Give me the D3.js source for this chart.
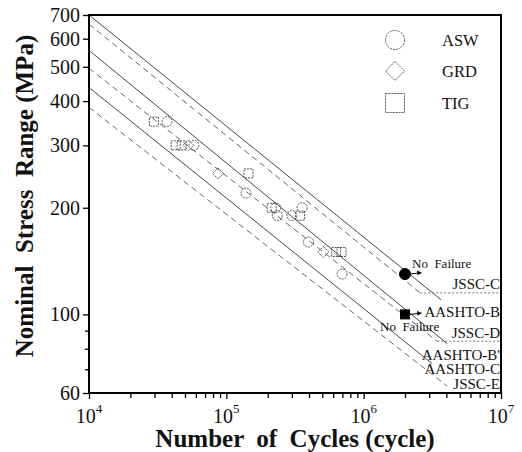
<!DOCTYPE html>
<html>
<head>
<meta charset="utf-8">
<script src="https://cdn.jsdelivr.net/npm/d3@7"></script>
<style>
  body { margin: 0; background: #fff; }
  text { font-family: "Liberation Serif", "Times New Roman", serif; fill: #111; }
</style>
</head>
<body>
<svg id="chart" width="522" height="452"></svg>
<script>
// test data: [cycles, stress range MPa]
var aswData = [[37000, 350], [58000, 300], [139000, 220], [229000, 200], [235000, 190],
               [300000, 190], [356000, 200], [396000, 160], [696000, 130]];
var grdData = [[53000, 300], [87000, 250], [509000, 150]];
var tigData = [[29700, 350], [42800, 300], [47300, 300], [145000, 250], [214000, 200],
               [344000, 190], [630000, 150], [690000, 150]];
// run-outs (no failure)
var runoutShape = ["circle", "square"];
var runoutData = [[2000000, 130], [2000000, 100]];

// design S-N lines: start and end points [cycles, MPa]
var curveNames = ["AASHTO-B", "JSSC-C", "AASHTO-B'", "JSSC-D", "AASHTO-C", "JSSC-E"];
var curveStart = [[1e4, 700], [1e4, 660], [1e4, 556], [1e4, 495], [1e4, 437], [1e4, 384]];
var curveEnd = [[3.66e6, 110], [2.58e6, 115], [4.05e6, 82.7], [3.43e6, 84], [3.15e6, 72.6], [4.05e6, 62.8]];
var curveDashed = [false, true, false, true, false, true];
// constant amplitude limits drawn as dotted lines
var cutoffStart = [2.58e6, 3.43e6];
var cutoffStress = [115, 84];

// curve labels at the right edge, MPa level of each label
var labelNames = ["JSSC-C", "AASHTO-B", "JSSC-D", "AASHTO-B'", "AASHTO-C", "JSSC-E"];
var labelStress = [122, 101.5, 88.5, 77, 70.3, 63.8];

var yMajor = [60, 100, 200, 300, 400, 500, 600, 700];
var yMinor = [70, 80, 90];
var xMajor = [1e4, 1e5, 1e6, 1e7];
var xMinor = [];
[1e4, 1e5, 1e6].forEach(function(d) { for (var k = 2; k <= 9; k++) xMinor.push(k * d); });

var legendNames = ["ASW", "GRD", "TIG"];

var svg = d3.select("#chart");
var plotL = 89, plotR = 501, plotT = 15, plotB = 393;

var x = d3.scaleLog().domain([1e4, 1e7]).range([plotL, plotR]);
var y = d3.scaleLog().domain([60, 700]).range([plotB, plotT]);

// S-N curves
var lineGen = d3.line().x(function(d) { return x(d[0]); }).y(function(d) { return y(d[1]); });
curveNames.forEach(function(name, i) {
  svg.append("path")
    .attr("d", lineGen([curveStart[i], curveEnd[i]]))
    .attr("fill", "none")
    .attr("stroke", curveDashed[i] ? "#555" : "#333")
    .attr("stroke-width", 0.9)
    .attr("stroke-dasharray", curveDashed[i] ? "6,4" : null);
});
cutoffStart.forEach(function(n, i) {
  svg.append("path")
    .attr("d", lineGen([[n, cutoffStress[i]], [1e7, cutoffStress[i]]]))
    .attr("fill", "none")
    .attr("stroke", "#666")
    .attr("stroke-width", 0.9)
    .attr("stroke-dasharray", "2,2");
});

// markers
function drawSymbol(g, shape, cx, cy, s, filled) {
  var el;
  if (shape == "circle") {
    el = g.append("circle").attr("cx", cx).attr("cy", cy).attr("r", s);
  } else if (shape == "diamond") {
    el = g.append("path").attr("d", "M" + cx + "," + (cy - s) + "L" + (cx + s) + "," + cy +
      "L" + cx + "," + (cy + s) + "L" + (cx - s) + "," + cy + "Z");
  } else {
    el = g.append("rect").attr("x", cx - s).attr("y", cy - s).attr("width", 2 * s).attr("height", 2 * s);
  }
  if (filled) {
    el.attr("fill", "#000").attr("stroke", "#000");
  } else {
    el.attr("fill", "none").attr("stroke", "#555").attr("stroke-width", 1)
      .attr("stroke-dasharray", "2,1");
  }
  return el;
}

var pts = svg.append("g").attr("id", "points");
aswData.forEach(function(d) { drawSymbol(pts, "circle", x(d[0]), y(d[1]), 5, false); });
grdData.forEach(function(d) { drawSymbol(pts, "diamond", x(d[0]), y(d[1]), 5.5, false); });
tigData.forEach(function(d) { drawSymbol(pts, "square", x(d[0]), y(d[1]), 4.5, false); });

runoutData.forEach(function(d, i) {
  var cx = x(d[0]), cy = y(d[1]);
  drawSymbol(pts, runoutShape[i], cx, cy, runoutShape[i] == "circle" ? 5.5 : 4.5, true);
  // arrow pointing to more cycles
  pts.append("line").attr("x1", cx + 5).attr("y1", cy).attr("x2", cx + 14).attr("y2", cy - 1)
    .attr("stroke", "#000").attr("stroke-width", 1);
  pts.append("path")
    .attr("d", "M" + (cx + 17) + "," + (cy - 1.3) + "L" + (cx + 12) + "," + (cy - 3.5) + "L" + (cx + 12.5) + "," + (cy + 1.3) + "Z")
    .attr("fill", "#000");
});
svg.append("text").attr("x", x(runoutData[0][0]) + 7).attr("y", y(runoutData[0][1]) - 6)
  .style("font-size", "13px").attr("xml:space", "preserve").text("No  Failure");
svg.append("text").attr("x", x(runoutData[1][0]) - 25).attr("y", y(runoutData[1][1]) + 17)
  .style("font-size", "13px").attr("xml:space", "preserve").text("No  Failure");

// curve labels
labelNames.forEach(function(name, i) {
  svg.append("text")
    .attr("x", plotR - 1)
    .attr("y", y(labelStress[i]))
    .attr("dy", "0.33em")
    .attr("text-anchor", "end")
    .style("font-size", "15px")
    .text(name);
});

// legend
var legendShapes = ["circle", "diamond", "square"];
var legendY = [40, 71, 103];
legendNames.forEach(function(name, i) {
  drawSymbol(svg, legendShapes[i], 395, legendY[i], 9.5, false);
  svg.append("text").attr("x", 442).attr("y", legendY[i]).attr("dy", "0.35em")
    .style("font-size", "16.5px").text(name);
});

// axes
var yAxis = svg.append("g").attr("transform", "translate(" + plotL + ",0)")
  .call(d3.axisLeft(y).tickValues(yMajor).tickSize(6).tickFormat(d3.format("d")));
svg.append("g").attr("transform", "translate(" + plotL + ",0)")
  .call(d3.axisLeft(y).tickValues(yMinor).tickSize(4).tickFormat(""));
svg.append("g").attr("transform", "translate(0," + plotB + ")")
  .call(d3.axisBottom(x).tickValues(xMajor).tickSize(6).tickFormat(""));
svg.append("g").attr("transform", "translate(0," + plotB + ")")
  .call(d3.axisBottom(x).tickValues(xMinor).tickSize(5).tickFormat(""));

svg.selectAll(".domain").remove();
svg.selectAll(".tick line").attr("stroke", "#000").attr("stroke-width", 1.3);
yAxis.selectAll("text").style("font-size", "20px").style("font-family", "Liberation Serif").attr("fill", "#111");

// powers of ten under the x axis
xMajor.forEach(function(v) {
  var t = svg.append("text").attr("x", x(v)).attr("y", 423)
    .attr("text-anchor", "middle").style("font-size", "20px");
  t.append("tspan").text("10");
  t.append("tspan").attr("dy", -10).style("font-size", "13px").text(Math.round(Math.log10(v)));
});

// frame
svg.append("rect").attr("x", plotL).attr("y", plotT)
  .attr("width", plotR - plotL).attr("height", plotB - plotT)
  .attr("fill", "none").attr("stroke", "#000").attr("stroke-width", 2);

// axis titles
svg.append("text").attr("x", (plotL + plotR) / 2).attr("y", 447)
  .attr("text-anchor", "middle").attr("xml:space", "preserve")
  .style("font-size", "25px").style("font-weight", "bold")
  .text("Number  of  Cycles (cycle)");
svg.append("text")
  .attr("transform", "translate(33," + 196 + ") rotate(-90)")
  .attr("text-anchor", "middle").attr("xml:space", "preserve")
  .style("font-size", "25px").style("font-weight", "bold")
  .text("Nominal  Stress  Range (MPa)");
</script>
</body>
</html>
